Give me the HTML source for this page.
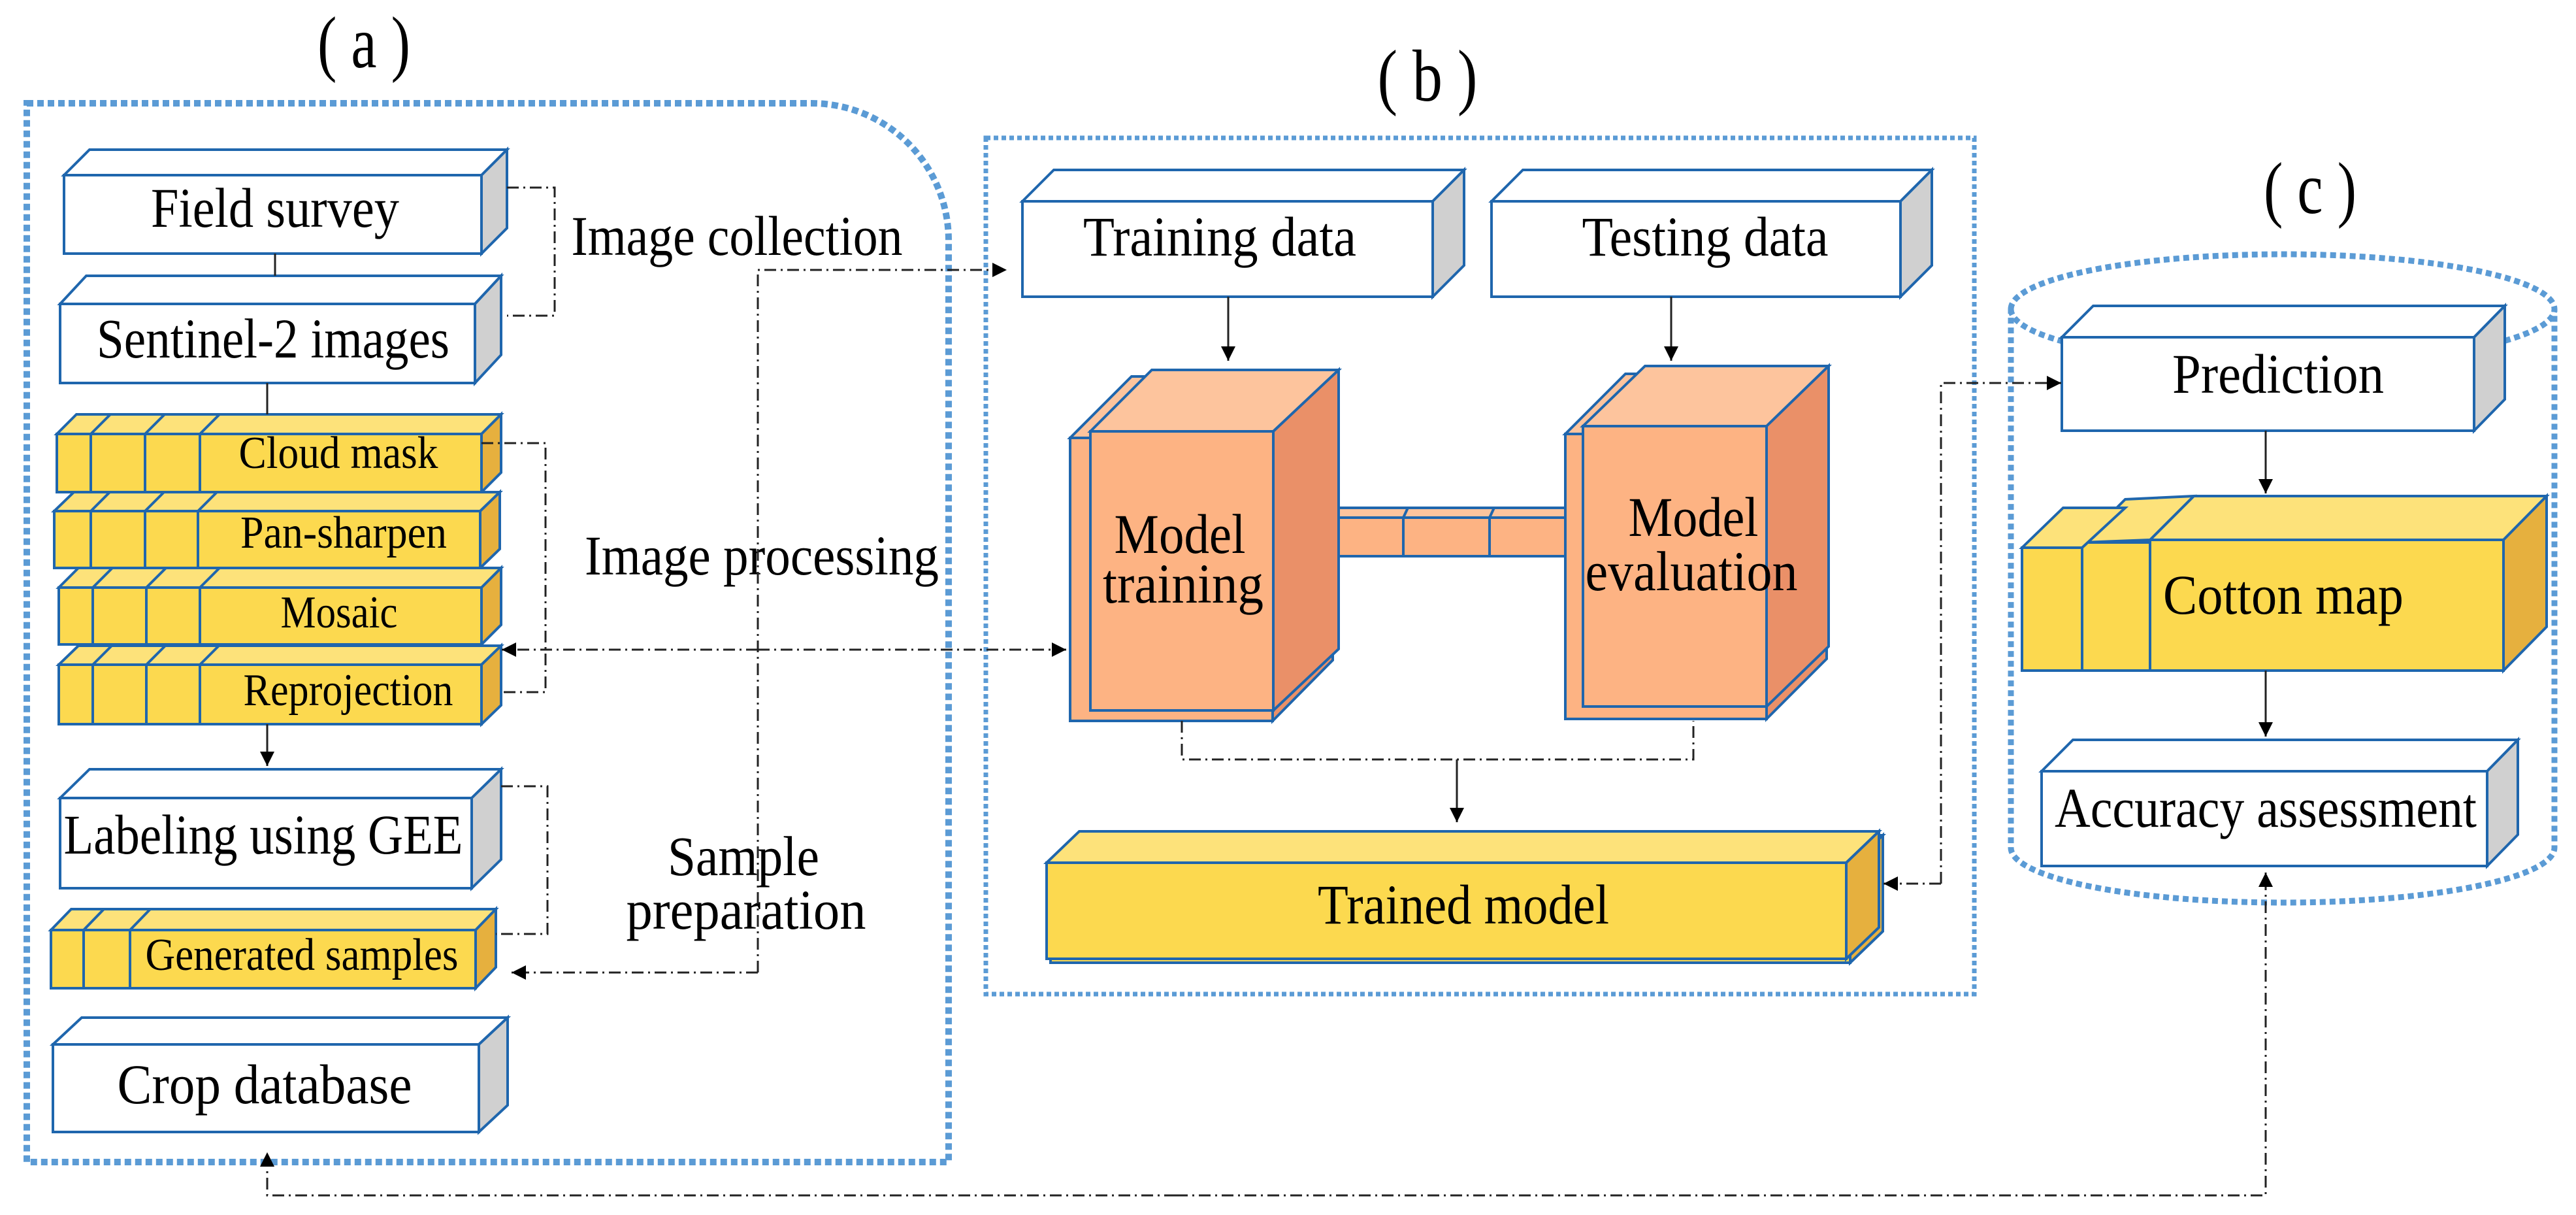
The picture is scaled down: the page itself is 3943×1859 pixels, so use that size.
<!DOCTYPE html>
<html><head><meta charset="utf-8">
<style>html,body{margin:0;padding:0;background:#fff}svg{display:block}</style>
</head><body>
<svg xmlns="http://www.w3.org/2000/svg" width="3943" height="1859" viewBox="0 0 3943 1859" font-family="'Liberation Serif', serif" fill="#000">
<defs>
<marker id="ah" viewBox="0 0 10 10" refX="10" refY="5" markerWidth="22" markerHeight="22" markerUnits="userSpaceOnUse" orient="auto"><path d="M0,0 L10,5 L0,10 Z" fill="#000"/></marker>
</defs>
<rect width="3943" height="1859" fill="#fff"/>

<!-- panel borders -->
<path d="M41,158 H1242 A210,210 0 0 1 1452,368 V1778 H41 Z" fill="none" stroke="#5b9bd5" stroke-width="10" stroke-dasharray="10 6"/>
<rect x="1509" y="211" width="1513" height="1310" fill="none" stroke="#5b9bd5" stroke-width="7" stroke-dasharray="7 5"/>
<path d="M3078,473 A416,84 0 0 1 3910,473 L3910,1297 A416,84 0 0 1 3078,1297 Z" fill="none" stroke="#5b9bd5" stroke-width="9" stroke-dasharray="9 6"/>
<path d="M3078,473 A416,84 0 0 0 3910,473" fill="none" stroke="#5b9bd5" stroke-width="9" stroke-dasharray="9 6"/>

<g font-size="112" text-anchor="middle">
<text x="557" y="103" textLength="142" lengthAdjust="spacingAndGlyphs">( a )</text>
<text x="2185" y="154" textLength="153" lengthAdjust="spacingAndGlyphs">( b )</text>
<text x="3536" y="326" textLength="142" lengthAdjust="spacingAndGlyphs">( c )</text>
</g>

<g stroke="#1f66ad" stroke-width="4" stroke-linejoin="miter">
<g>
<polygon points="98,268 137,229 776,229 737,268" fill="#fff"/><polygon points="737,268 776,229 776,349 737,388" fill="#d0d0d0"/><rect x="98" y="268" width="639" height="120" fill="#fff"/>
<polygon points="92,465 132,422 767,422 727,465" fill="#fff"/><polygon points="727,465 767,422 767,543 727,586" fill="#d0d0d0"/><rect x="92" y="465" width="635" height="121" fill="#fff"/>
<polygon points="92,1221 137,1177 767,1177 722,1221" fill="#fff"/><polygon points="722,1221 767,1177 767,1315 722,1359" fill="#d0d0d0"/><rect x="92" y="1221" width="630" height="138" fill="#fff"/>
<polygon points="81,1598 125,1557 777,1557 733,1598" fill="#fff"/><polygon points="733,1598 777,1557 777,1691 733,1732" fill="#d0d0d0"/><rect x="81" y="1598" width="652" height="134" fill="#fff"/>
<polygon points="1565,308 1613,260 2241,260 2193,308" fill="#fff"/><polygon points="2193,308 2241,260 2241,406 2193,454" fill="#d0d0d0"/><rect x="1565" y="308" width="628" height="146" fill="#fff"/>
<polygon points="2283,308 2331,260 2957,260 2909,308" fill="#fff"/><polygon points="2909,308 2957,260 2957,406 2909,454" fill="#d0d0d0"/><rect x="2283" y="308" width="626" height="146" fill="#fff"/>
<polygon points="3156,516 3204,468 3834,468 3787,516" fill="#fff"/><polygon points="3787,516 3834,468 3834,611 3787,659" fill="#d0d0d0"/><rect x="3156" y="516" width="631" height="143" fill="#fff"/>
<polygon points="3125,1180 3173,1132 3854,1132 3807,1180" fill="#fff"/><polygon points="3807,1180 3854,1132 3854,1277 3807,1325" fill="#d0d0d0"/><rect x="3125" y="1180" width="682" height="145" fill="#fff"/>
</g>
<g>
<polygon points="87,664 117,634 767,634 737,664" fill="#fde27a"/><polygon points="737,664 767,634 767,723 737,753" fill="#e6b03e"/><rect x="87" y="664" width="650" height="89" fill="#fcd94f"/>
<path d="M139,664 V753 M222,664 V753 M306,664 V753 M139,664 L169,634 M222,664 L252,634 M306,664 L336,634" fill="none"/>
<polygon points="83,782 113,753 765,753 735,782" fill="#fde27a"/><polygon points="735,782 765,753 765,840 735,869" fill="#e6b03e"/><rect x="83" y="782" width="652" height="87" fill="#fcd94f"/>
<path d="M139,782 V869 M222,782 V869 M303,782 V869 M139,782 L168,753 M222,782 L251,753 M303,782 L332,753" fill="none"/>
<polygon points="90,899 120,869 767,869 737,899" fill="#fde27a"/><polygon points="737,899 767,869 767,956 737,986" fill="#e6b03e"/><rect x="90" y="899" width="647" height="87" fill="#fcd94f"/>
<path d="M142,899 V986 M224,899 V986 M306,899 V986 M142,899 L172,869 M224,899 L254,869 M306,899 L336,869" fill="none"/>
<polygon points="90,1017 120,988 767,988 737,1017" fill="#fde27a"/><polygon points="737,1017 767,988 767,1079 737,1108" fill="#e6b03e"/><rect x="90" y="1017" width="647" height="91" fill="#fcd94f"/>
<path d="M142,1017 V1108 M224,1017 V1108 M306,1017 V1108 M142,1017 L171,988 M224,1017 L253,988 M306,1017 L335,988" fill="none"/>
<polygon points="78,1423 109,1391 759,1391 728,1423" fill="#fde27a"/><polygon points="728,1423 759,1391 759,1480 728,1512" fill="#e6b03e"/><rect x="78" y="1423" width="650" height="89" fill="#fcd94f"/>
<path d="M128,1423 V1512 M199,1423 V1512 M128,1423 L159,1391 M199,1423 L230,1391" fill="none"/>
</g>
<g>
<polygon points="1638,670 1732,576 2040,576 1948,670" fill="#fdc49d"/><rect x="1638" y="670" width="310" height="433" fill="#fdb383"/><polygon points="1948,670 2040,576 2040,1010 1948,1103" fill="#ea9068"/>
<polygon points="1669,660 1763,566 2049,566 1949,660" fill="#fdc49d"/><polygon points="1949,660 2049,566 2049,993 1949,1087" fill="#ea9068"/><rect x="1669" y="660" width="280" height="427" fill="#fdb383"/>
</g>
<g>
<rect x="2049" y="777" width="374" height="74" fill="#fdb383"/>
<rect x="2049" y="777" width="374" height="15" fill="#fdc49d"/>
<path d="M2148,792 V851 M2280,792 V851 M2148,792 L2155,777 M2280,792 L2287,777" fill="none"/>
</g>
<g>
<polygon points="2396,664 2488,572 2796,572 2704,664" fill="#fdc49d"/><rect x="2396" y="664" width="308" height="436" fill="#fdb383"/><polygon points="2704,664 2796,572 2796,1008 2704,1100" fill="#ea9068"/>
<polygon points="2423,652 2518,560 2799,560 2704,652" fill="#fdc49d"/><polygon points="2704,652 2799,560 2799,989 2704,1081" fill="#ea9068"/><rect x="2423" y="652" width="281" height="429" fill="#fdb383"/>
</g>
<g>
<polygon points="1608,1326 1658,1278 2882,1278 2832,1326" fill="#fde27a"/><polygon points="2832,1326 2882,1278 2882,1425 2832,1473" fill="#e6b03e"/><rect x="1608" y="1326" width="1224" height="147" fill="#fcd94f"/>
<polygon points="1602,1320 1652,1272 2876,1272 2826,1320" fill="#fde27a"/><polygon points="2826,1320 2876,1272 2876,1419 2826,1467" fill="#e6b03e"/><rect x="1602" y="1320" width="1224" height="147" fill="#fcd94f"/>
</g>
<g>
<polygon points="3291,826 3358,759 3898,759 3832,826" fill="#fde27a"/><polygon points="3832,826 3898,759 3898,959 3832,1026" fill="#e6b03e"/><rect x="3291" y="826" width="541" height="200" fill="#fcd94f"/>
<polygon points="3187,830 3253,764 3358,759 3291,826" fill="#fde27a"/><rect x="3187" y="830" width="104" height="196" fill="#fcd94f"/>
<polygon points="3095,838 3158,777 3253,777 3187,838" fill="#fde27a"/><rect x="3095" y="838" width="92" height="188" fill="#fcd94f"/>
</g>
</g>

<g font-size="86" text-anchor="middle">
<text x="421" y="347" textLength="380" lengthAdjust="spacingAndGlyphs">Field survey</text>
<text x="418" y="547" textLength="540" lengthAdjust="spacingAndGlyphs">Sentinel-2 images</text>
<text x="403" y="1306" textLength="611" lengthAdjust="spacingAndGlyphs">Labeling using GEE</text>
<text x="405" y="1688" textLength="451" lengthAdjust="spacingAndGlyphs">Crop database</text>
<text x="1128" y="390" textLength="507" lengthAdjust="spacingAndGlyphs">Image collection</text>
<text x="1166" y="879" textLength="542" lengthAdjust="spacingAndGlyphs">Image processing</text>
<text x="1138" y="1339" textLength="232" lengthAdjust="spacingAndGlyphs">Sample</text>
<text x="1142" y="1421" textLength="367" lengthAdjust="spacingAndGlyphs">preparation</text>
<text x="1867" y="391" textLength="418" lengthAdjust="spacingAndGlyphs">Training data</text>
<text x="2610" y="391" textLength="377" lengthAdjust="spacingAndGlyphs">Testing data</text>
<text x="1806" y="846" textLength="201" lengthAdjust="spacingAndGlyphs">Model</text>
<text x="1811" y="922" textLength="246" lengthAdjust="spacingAndGlyphs">training</text>
<text x="2592" y="820" textLength="199" lengthAdjust="spacingAndGlyphs">Model</text>
<text x="2589" y="903" textLength="325" lengthAdjust="spacingAndGlyphs">evaluation</text>
<text x="2240" y="1413" textLength="446" lengthAdjust="spacingAndGlyphs">Trained model</text>
<text x="3487" y="601" textLength="324" lengthAdjust="spacingAndGlyphs">Prediction</text>
<text x="3495" y="939" textLength="368" lengthAdjust="spacingAndGlyphs">Cotton map</text>
<text x="3468" y="1265" textLength="646" lengthAdjust="spacingAndGlyphs">Accuracy assessment</text>
</g>
<g font-size="70" text-anchor="middle">
<text x="518" y="716" textLength="305" lengthAdjust="spacingAndGlyphs">Cloud mask</text>
<text x="526" y="838" textLength="316" lengthAdjust="spacingAndGlyphs">Pan-sharpen</text>
<text x="519" y="960" textLength="179" lengthAdjust="spacingAndGlyphs">Mosaic</text>
<text x="533" y="1079" textLength="321" lengthAdjust="spacingAndGlyphs">Reprojection</text>
<text x="462" y="1484" textLength="479" lengthAdjust="spacingAndGlyphs">Generated samples</text>
</g>

<g stroke="#222" stroke-width="3" fill="none">
<path d="M421,388 V422"/>
<path d="M409,586 V634"/>
<path d="M409,1108 V1172" marker-end="url(#ah)"/>
<path d="M1880,454 V552" marker-end="url(#ah)"/>
<path d="M2558,454 V552" marker-end="url(#ah)"/>
<path d="M2230,1162 V1258" marker-end="url(#ah)"/>
<path d="M3468,659 V755" marker-end="url(#ah)"/>
<path d="M3468,1026 V1127" marker-end="url(#ah)"/>
</g>
<g stroke="#222" stroke-width="3" fill="none" stroke-dasharray="18 7 3 7">
<path d="M776,287 H849 V483 H776"/>
<path d="M737,678 H835 V1059 H768"/>
<path d="M767,1203 H838 V1429 H759"/>
<path d="M1160,994 H768" marker-end="url(#ah)"/>
<path d="M1160,994 H1632" marker-end="url(#ah)"/>
<path d="M1160,1488 V413 H1541" marker-end="url(#ah)"/>
<path d="M1160,1488 H783" marker-end="url(#ah)"/>
<path d="M1809,1103 V1162 H2592 V1103"/>
<path d="M2971,1352 H2883" marker-end="url(#ah)"/>
<path d="M2971,1352 V586 H3155" marker-end="url(#ah)"/>
<path d="M1800,1829 H409 V1763" marker-end="url(#ah)"/>
<path d="M1800,1829 H3468 V1335" marker-end="url(#ah)"/>
</g>
</svg>
</body></html>
